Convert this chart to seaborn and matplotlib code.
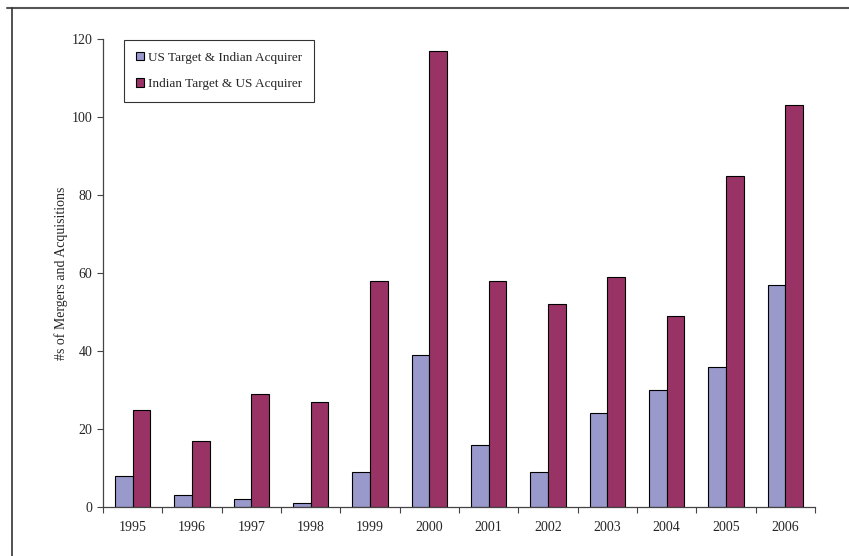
import matplotlib
matplotlib.use("Agg")
import matplotlib.pyplot as plt
import seaborn as sns
import pandas as pd
import numpy as np
from matplotlib.lines import Line2D

years = ['1995', '1996', '1997', '1998', '1999', '2000',
         '2001', '2002', '2003', '2004', '2005', '2006']
us_target = [8, 3, 2, 1, 9, 39, 16, 9, 24, 30, 36, 57]
indian_target = [25, 17, 29, 27, 58, 117, 58, 52, 59, 49, 85, 103]
series = ['US Target & Indian Acquirer', 'Indian Target & US Acquirer']
colors = ['#9999CC', '#993366']

df = pd.DataFrame({
    'year': years * 2,
    'count': us_target + indian_target,
    'series': [series[0]] * len(years) + [series[1]] * len(years),
})

sns.set_style('white')
plt.rcParams['font.family'] = ['Liberation Serif', 'DejaVu Serif']

fig = plt.figure(figsize=(8.49, 5.56), dpi=100)
ax = fig.add_axes([103 / 849, 1 - 507 / 556, 712 / 849, 468 / 556])

sns.barplot(data=df, x='year', y='count', hue='series', palette=colors,
            width=0.6, edgecolor='black', linewidth=0.8, saturation=1,
            ax=ax)

ax.set_ylim(0, 120)
ax.set_xlim(-0.5, len(years) - 0.5)
ax.set_yticks(np.arange(0, 121, 20))
ax.tick_params(axis='y', labelsize=10, length=4, width=0.8, direction='out', left=True, color='#444444')
ax.tick_params(axis='x', which='major', labelsize=10, length=0, pad=10)
ax.set_xticks(np.arange(-0.5, len(years), 1), minor=True)
ax.tick_params(axis='x', which='minor', length=4, width=0.8, direction='out', bottom=True, color='#444444')
ax.set_xlabel('')
ax.set_ylabel('#s of Mergers and Acquisitions', fontsize=10, labelpad=3)

for s in ['top', 'right']:
    ax.spines[s].set_visible(False)
for s in ['left', 'bottom']:
    ax.spines[s].set_color('#444444')
    ax.spines[s].set_linewidth(0.9)

leg = ax.legend(loc='upper left', bbox_to_anchor=(0.03, 0.998), fontsize=9.5,
                frameon=True, fancybox=False, edgecolor='black',
                handlelength=0.6, handleheight=0.6, handletextpad=0.3,
                labelspacing=1.1, borderpad=0.9, borderaxespad=0, title=None)
leg.get_frame().set_linewidth(0.8)

# outer frame
fig.add_artist(Line2D([7 / 849, 1], [1 - 8 / 556, 1 - 8 / 556], color='#555555', lw=1.5))
fig.add_artist(Line2D([12 / 849, 12 / 849], [0, 1 - 8 / 556], color='#333333', lw=1.2))

fig.savefig('out.png', dpi=100)
